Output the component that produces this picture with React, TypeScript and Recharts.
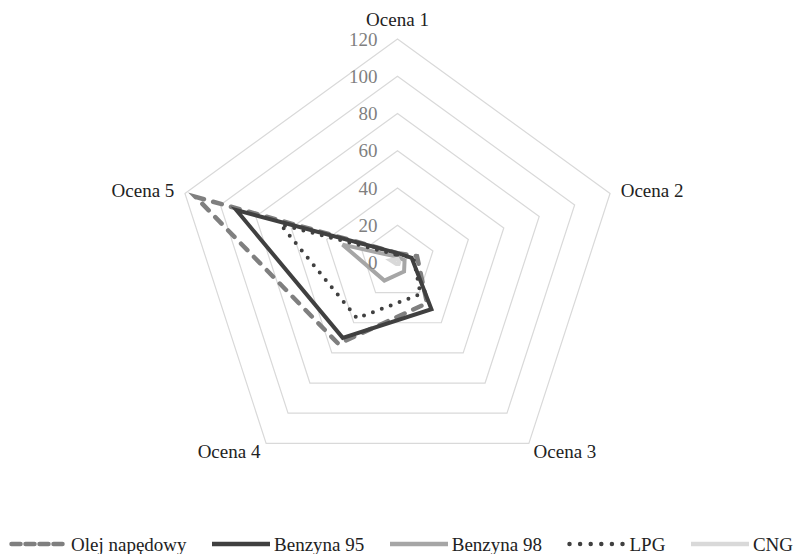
import React from 'react';
import { RadarChart, Radar, PolarGrid, PolarAngleAxis, PolarRadiusAxis, Legend } from 'recharts';

const categories = ['Ocena 1', 'Ocena 2', 'Ocena 3', 'Ocena 4', 'Ocena 5'];
const olejNapedowy = [5, 11, 27, 54, 114];
const benzyna95 = [5, 8, 31, 50, 91];
const benzyna98 = [3, 4, 6, 12, 31];
const lpg = [4, 9, 21, 37, 66];
const cng = [2, 1, 1, 1, 4];
const seriesNames = ['Olej napędowy', 'Benzyna 95', 'Benzyna 98', 'LPG', 'CNG'];
const seriesKeys = ['olej', 'b95', 'b98', 'lpg', 'cng'];
const seriesValues = [olejNapedowy, benzyna95, benzyna98, lpg, cng];
const radiusDomain = [0, 120];
const radiusTickCount = 7;

const data = categories.map((c, i) => {
  const row: any = { subject: c };
  seriesKeys.forEach((k, s) => {
    row[k] = seriesValues[s][i];
  });
  return row;
});

const seriesStyles = [
  { color: '#7f7f7f', dash: '9 9.5', width: 4.5, legendDash: '9 5', legendWidth: 4.5 },
  { color: '#404040', dash: undefined, width: 4, legendDash: undefined, legendWidth: 4.5 },
  { color: '#a6a6a6', dash: undefined, width: 4, legendDash: undefined, legendWidth: 4.5 },
  { color: '#404040', dash: '0 9.5', width: 4, legendDash: '0 10.6', legendWidth: 4.5 },
  { color: '#d9d9d9', dash: undefined, width: 4, legendDash: undefined, legendWidth: 4.5 },
];

const FONT = '"Liberation Serif", "Times New Roman", serif';

const angleOffsets = [
  { dx: 0, dy: -5 },
  { dx: 3, dy: 6 },
  { dx: 0, dy: 8.5 },
  { dx: -1, dy: 8.5 },
  { dx: -3, dy: 6 },
];

const AngleTick = (props: any) => {
  const { x, y, payload, index, textAnchor } = props;
  const off = angleOffsets[index] || { dx: 0, dy: 0 };
  return (
    <text
      x={x + off.dx}
      y={y + off.dy}
      textAnchor={textAnchor}
      fill="#222222"
      fontSize={19}
      fontFamily={FONT}
    >
      {payload.value}
    </text>
  );
};

const RadiusTick = (props: any) => {
  const { x, y, payload } = props;
  return (
    <text
      x={x - 20}
      y={y}
      textAnchor="end"
      dominantBaseline="central"
      fill="#7f7f7f"
      fontSize={19}
      fontFamily={FONT}
    >
      {payload.value}
    </text>
  );
};

const LegendContent = () => (
  <div
    style={{
      display: 'flex',
      justifyContent: 'space-between',
      alignItems: 'center',
      width: '100%',
      height: 20,
    }}
  >
    {seriesNames.map((name, i) => {
      const st = seriesStyles[i];
      return (
        <div key={name} style={{ display: 'flex', alignItems: 'center' }}>
          <svg width={58} height={10} style={{ display: 'block' }}>
            <line
              x1={st.legendDash ? 2.5 : 0}
              y1={5}
              x2={st.legendDash ? 56 : 58}
              y2={5}
              stroke={st.color}
              strokeWidth={st.legendWidth}
              strokeDasharray={st.legendDash}
              strokeLinecap={st.legendDash ? 'round' : 'butt'}
            />
          </svg>
          <span
            style={{
              marginLeft: 4,
              fontFamily: FONT,
              fontSize: 19,
              lineHeight: '19px',
              color: '#222222',
              whiteSpace: 'nowrap',
            }}
          >
            {name}
          </span>
        </div>
      );
    })}
  </div>
);

export default function App() {
  return (
    <div style={{ position: 'absolute', left: 0, top: 0, width: 794, height: 554, background: '#ffffff' }}>
      <RadarChart
        width={794}
        height={554}
        data={data}
        cx={397.5}
        cy={262.5}
        outerRadius={223.5}
        margin={{ top: 0, right: 0, bottom: 0, left: 0 }}
      >
        <PolarGrid gridType="polygon" radialLines={false} stroke="#d9d9d9" strokeWidth={1.2} />
        <PolarAngleAxis dataKey="subject" tick={<AngleTick />} tickLine={false} axisLine={false} />
        <PolarRadiusAxis
          angle={90}
          domain={radiusDomain}
          tickCount={radiusTickCount}
          axisLine={false}
          tickLine={false}
          tick={<RadiusTick />}
        />
        {seriesKeys.map((k, i) => (
          <Radar
            key={k}
            name={seriesNames[i]}
            dataKey={k}
            stroke={seriesStyles[i].color}
            strokeWidth={seriesStyles[i].width}
            strokeDasharray={seriesStyles[i].dash}
            strokeLinecap={seriesStyles[i].dash ? 'round' : 'butt'}
            fill="none"
            fillOpacity={0}
            dot={false}
            isAnimationActive={false}
          />
        ))}
        <Legend
          content={<LegendContent />}
          wrapperStyle={{ position: 'absolute', left: 9, top: 534, width: 784, height: 20 }}
        />
      </RadarChart>
    </div>
  );
}
